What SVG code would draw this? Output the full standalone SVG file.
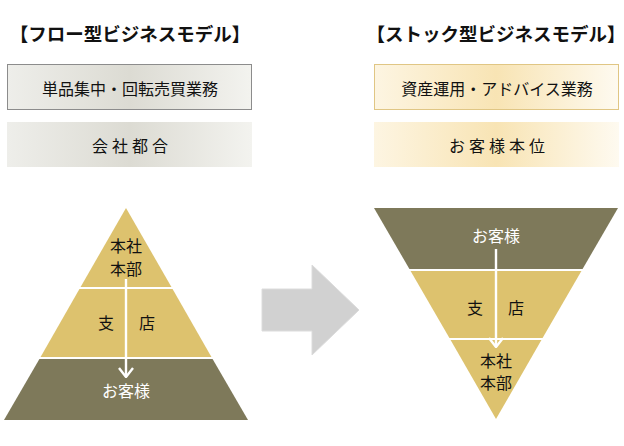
<svg xmlns="http://www.w3.org/2000/svg" width="624" height="446" viewBox="0 0 624 446">
<defs>
<linearGradient id="gGray" x1="0" y1="0" x2="1" y2="0">
<stop offset="0" stop-color="#eeeeea"/>
<stop offset="0.5" stop-color="#dcdbd3"/>
<stop offset="1" stop-color="#f3f3ef"/>
</linearGradient>
<linearGradient id="gGold" x1="0" y1="0" x2="1" y2="0">
<stop offset="0" stop-color="#fdf5e2"/>
<stop offset="0.5" stop-color="#f8e4b4"/>
<stop offset="1" stop-color="#fefaf0"/>
</linearGradient>
<marker id="chev" viewBox="0 0 12 16" refX="11" refY="8" markerWidth="12" markerHeight="16" markerUnits="userSpaceOnUse" orient="auto">
<path d="M2,1 L11,8 L2,15" fill="none" stroke="#ffffff" stroke-width="2.4"/>
</marker>
</defs>
<style>
text{font-family:"Noto Sans CJK JP","Noto Sans",sans-serif;text-anchor:middle;dominant-baseline:central}
.title{font-size:18.5px;font-weight:700;fill:#111}
.lbl{font-size:16px;font-weight:400;fill:#111}
.sp{letter-spacing:4px}
.wt{font-size:16px;font-weight:400;fill:#ffffff}
.gold{fill:#ddc26e}
.dark{fill:#7e795a}
.div{stroke:#ffffff;stroke-width:2}
.conn{stroke:#ffffff;stroke-width:2.4;fill:none}
</style>
<rect width="624" height="446" fill="#ffffff"/>

<g id="title-left"><text class="title" x="130" y="33">【フロー型ビジネスモデル】</text></g>
<g id="title-right"><text class="title" x="496" y="33">【ストック型ビジネスモデル】</text></g>

<g id="box-left-1">
<rect x="7.5" y="64.5" width="244" height="45" fill="url(#gGray)" stroke="#8c8c8c" stroke-width="1"/>
<text class="lbl" x="130" y="88">単品集中・回転売買業務</text>
</g>
<g id="box-left-2">
<rect x="7" y="122" width="245" height="45" fill="url(#gGray)"/>
<text class="lbl sp" x="132" y="145">会社都合</text>
</g>
<g id="box-right-1">
<rect x="374.5" y="64.5" width="244" height="45" fill="url(#gGold)" stroke="#e0c684" stroke-width="1"/>
<text class="lbl" x="497" y="88">資産運用・アドバイス業務</text>
</g>
<g id="box-right-2">
<rect x="374" y="122" width="245" height="45" fill="url(#gGold)"/>
<text class="lbl sp" x="499" y="145">お客様本位</text>
</g>

<g id="pyramid-left">
<polygon class="gold" points="126,208 80,288 172,288"/>
<polygon class="gold" points="80,288 172,288 212,358 40,358"/>
<polygon class="dark" points="40,358 212,358 248,420 4,420"/>
<line class="div" x1="79" y1="288" x2="173" y2="288"/>
<line class="div" x1="39" y1="358" x2="213" y2="358"/>
<text class="lbl" x="126" y="245">本社</text>
<text class="lbl" x="126" y="268">本部</text>
<text class="lbl" x="106" y="322">支</text>
<text class="lbl" x="147" y="322">店</text>
<text class="wt" x="126" y="390">お客様</text>
</g>

<g id="pyramid-right">
<polygon class="dark" points="374,208 618,208 582,270 410,270"/>
<polygon class="gold" points="410,270 582,270 542,339 450,339"/>
<polygon class="gold" points="450,339 542,339 496,419"/>
<line class="div" x1="409" y1="270" x2="583" y2="270"/>
<line class="div" x1="449" y1="339" x2="543" y2="339"/>
<text class="wt" x="496" y="235">お客様</text>
<text class="lbl" x="475" y="307">支</text>
<text class="lbl" x="516" y="307">店</text>
<text class="lbl" x="496" y="360">本社</text>
<text class="lbl" x="496" y="382">本部</text>
</g>

<g id="big-arrow">
<polygon points="262,289 312,289 312,265 359,310 312,355 312,331 262,331" fill="#d1d1d1" stroke="#dcdcdc" stroke-width="1"/>
</g>

<g id="connectors">
<line class="conn" x1="126" y1="279" x2="126" y2="377" marker-end="url(#chev)"/>
<line class="conn" x1="496" y1="249" x2="496" y2="347" marker-end="url(#chev)"/>
</g>
</svg>
